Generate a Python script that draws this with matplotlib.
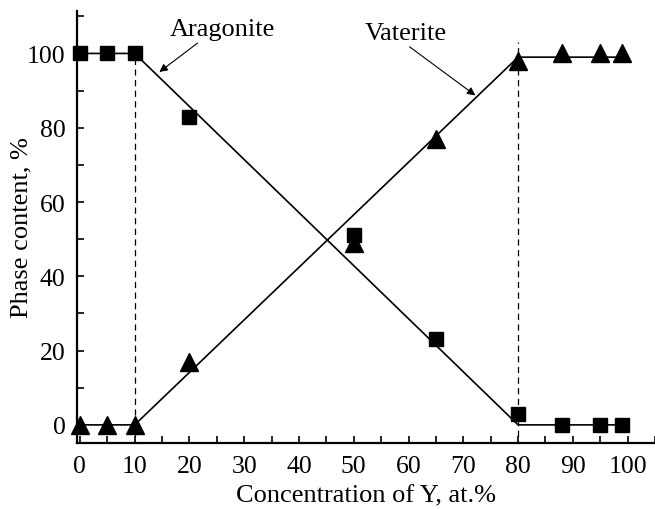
import numpy as np
import matplotlib
matplotlib.use("Agg")
import matplotlib.pyplot as plt
from matplotlib.ticker import MultipleLocator

plt.rcParams['font.family'] = ['Liberation Serif', 'DejaVu Serif']

# measured phase contents
conc = [0, 5, 10, 20, 50, 65, 80, 88, 95, 99]
aragonite = [100, 100, 100, 83, 51, 23, 3, 0, 0, 0]
vaterite = [0, 0, 0, 17, 49, 77, 98, 100, 100, 100]

# piecewise linear guides
fit_x = [0, 10, 80, 99]
aragonite_fit = [100, 100, 0, 0]
vaterite_fit = [0, 0, 99, 99]

# phase boundaries
boundaries = [10, 80]
boundary_tops = [100, 103]

xticks = np.arange(0, 101, 10)
yticks = np.arange(0, 101, 20)

fig = plt.figure(figsize=(6.55, 5.10), dpi=100)
ax = fig.add_axes([0.117, 0.13, 0.883, 0.847])

for xb, top in zip(boundaries, boundary_tops):
    ax.plot([xb, xb], [-6, top], ls=(0, (5, 3.5)), color='black', lw=0.9)

ax.plot(fit_x, aragonite_fit, color='black', lw=1.2)
ax.plot(fit_x, vaterite_fit, color='black', lw=1.2)
ax.plot(conc, aragonite, 's', color='black', ms=9.5, ls='none', clip_on=False, zorder=5)
ax.plot(conc, vaterite, '^', color='black', ms=12.5, ls='none', clip_on=False, zorder=5)

arrow = dict(arrowstyle='-|>', color='black', lw=0.8, mutation_scale=12, shrinkA=0, shrinkB=0)
ax.annotate('Aragonite', xy=(14.5, 95), xytext=(26, 106.5), fontsize=19,
            ha='center', va='center', arrowprops=dict(arrow, relpos=(0.3, 0.0)))
ax.annotate('Vaterite', xy=(72.2, 88.7), xytext=(59.5, 105.5), fontsize=19,
            ha='center', va='center', arrowprops=dict(arrow, relpos=(0.5, 0.0)))

ax.set_xlim(-0.6, 105)
ax.set_ylim(-4.8, 111.5)
ax.set_xticks(xticks)
ax.set_yticks(yticks)
ax.xaxis.set_minor_locator(MultipleLocator(5))
ax.yaxis.set_minor_locator(MultipleLocator(10))
ax.tick_params(which='both', direction='in', length=5, width=1.2, labelsize=18.5)
ax.tick_params(axis='x', pad=9)
ax.tick_params(axis='y', pad=8)

for side in ['top', 'right']:
    ax.spines[side].set_visible(False)
for side in ['left', 'bottom']:
    ax.spines[side].set_linewidth(1.6)

ax.set_xlabel('Concentration of Y, at.%', fontsize=19, labelpad=5)
ax.set_ylabel('Phase content, %', fontsize=19, labelpad=-4)

fig.savefig('out.png', dpi=100)
